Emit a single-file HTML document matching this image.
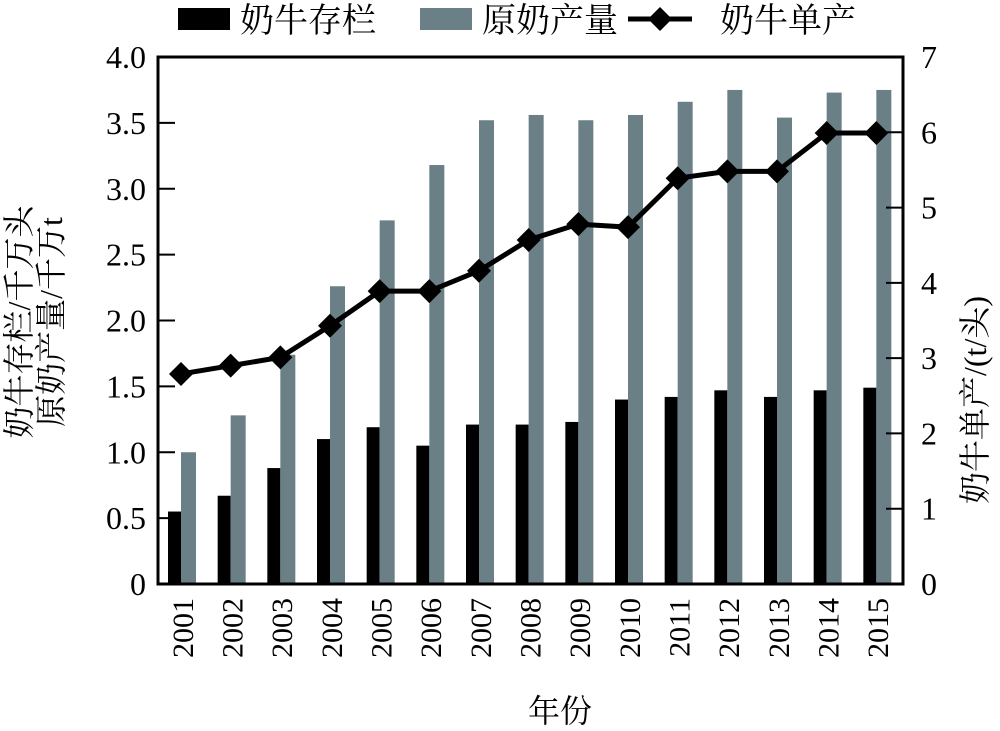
<!DOCTYPE html>
<html><head><meta charset="utf-8"><style>
body{margin:0;background:#fff}
svg text{font-family:"Liberation Serif","Noto Serif CJK SC",serif;fill:#000}
</style></head><body>
<svg id="c" width="1000" height="726" xmlns="http://www.w3.org/2000/svg"></svg>
<script>
const years=["2001","2002","2003","2004","2005","2006","2007","2008","2009","2010","2011","2012","2013","2014","2015"];
const herd=[0.55,0.67,0.88,1.10,1.19,1.05,1.21,1.21,1.23,1.40,1.42,1.47,1.42,1.47,1.49];
const milk=[1.00,1.28,1.74,2.26,2.76,3.18,3.52,3.56,3.52,3.56,3.66,3.75,3.54,3.73,3.75];
const yieldPer=[2.79,2.90,3.01,3.43,3.89,3.89,4.16,4.57,4.78,4.74,5.39,5.48,5.48,5.99,5.99];
const leftTicks=["0","0.5","1.0","1.5","2.0","2.5","3.0","3.5","4.0"];
const rightTicks=["0","1","2","3","4","5","6","7"];
const NS="http://www.w3.org/2000/svg",svg=document.getElementById('c');
const L=158,R=903,T=57,B=584,slot=(R-L)/years.length;
const yL=v=>B-v/4*(B-T), yR=v=>B-v/7*(B-T), xs=i=>L+i*slot;
function mk(t,a,p){const e=document.createElementNS(NS,t);for(const k in a)e.setAttribute(k,a[k]);(p||svg).appendChild(e);return e;}
herd.forEach((v,i)=>{const e=mk('rect',{x:xs(i)+10,y:yL(v),width:13,height:B-yL(v),fill:'#000'});

});
milk.forEach((v,i)=>{const e=mk('rect',{x:xs(i)+23,y:yL(v),width:15,height:B-yL(v),fill:'#6b7f87'});

});
const pl=mk('polyline',{points:yieldPer.map((v,i)=>(xs(i)+23)+','+yR(v)).join(' '),fill:'none',stroke:'#000','stroke-width':5});


yieldPer.forEach((v,i)=>{const x=xs(i)+23,y=yR(v);const e=mk('polygon',{points:`${x},${y-12} ${x+12},${y} ${x},${y+12} ${x-12},${y}`,fill:'#000'});

});
const box=mk('rect',{x:L,y:T,width:R-L,height:B-T,fill:'none',stroke:'#000','stroke-width':3});


leftTicks.forEach((t,i)=>{const y=yL(i*0.5);mk('line',{x1:L,x2:L+17,y1:y,y2:y,stroke:'#000','stroke-width':2});
const e=mk('text',{x:L-12,y:y+11,'text-anchor':'end','font-size':32});e.textContent=t;

});
rightTicks.forEach((t,i)=>{const y=yR(i);mk('line',{x1:R-17,x2:R,y1:y,y2:y,stroke:'#000','stroke-width':2});
const e=mk('text',{x:R+18,y:y+11,'font-size':32});e.textContent=t;

});
years.forEach((t,i)=>{const x=xs(i)+slot/2+10,y=598;const e=mk('text',{x:x,y:y,'text-anchor':'end','font-size':30,transform:`rotate(-90 ${x} ${y})`});e.textContent=t;

});
function label(txt,x,y,rot,name,size){const e=mk('text',{x:x,y:y,'text-anchor':'middle','font-size':size||32,transform:rot?`rotate(${rot} ${x} ${y})`:''});e.textContent=txt;

}
label('年份',560,722,0,'x-axis-title');
label('奶牛存栏/千万头',30,322,-90,'left-axis-title-1');
label('原奶产量/千万t',62,322,-90,'left-axis-title-2');
label('奶牛单产/(t/头)',986,400,-90,'right-axis-title');
// legend
const lg=mk('g',{});
mk('rect',{x:178,y:8,width:52,height:22,fill:'#000'},lg);
mk('rect',{x:420,y:8,width:52,height:22,fill:'#6b7f87'},lg);
mk('line',{x1:628,x2:692,y1:19,y2:19,stroke:'#000','stroke-width':5},lg);
mk('polygon',{points:'660,7 672,19 660,31 648,19',fill:'#000'},lg);
[['奶牛存栏',240],['原奶产量',482],['奶牛单产',720]].forEach(([t,x])=>{const e=mk('text',{x:x,y:32,'font-size':34},lg);e.textContent=t;

});
</script>
</body></html>
